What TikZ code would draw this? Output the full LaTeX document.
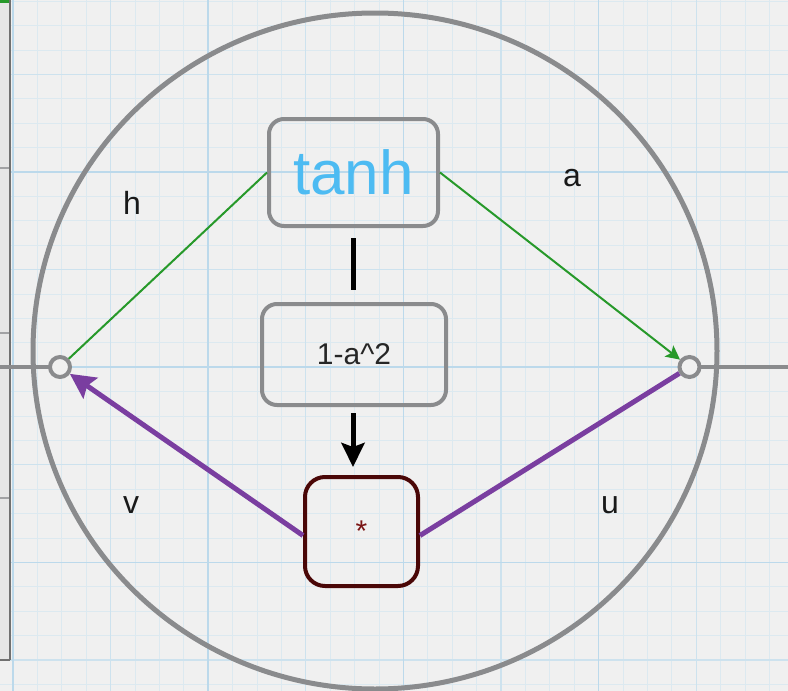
\documentclass[tikz,border=0pt]{standalone}
\usepackage{fontspec}
\setmainfont{Liberation Sans}
\usetikzlibrary{arrows.meta}

\definecolor{paper}{HTML}{F0F0F0}
\definecolor{gridminor}{HTML}{DCE9F0}
\definecolor{gridmid}{HTML}{CDE2EE}
\definecolor{gridmajor}{HTML}{BCD9EB}
\definecolor{ringgray}{HTML}{8A8B8D}
\definecolor{panelgray}{HTML}{E6E6E6}
\definecolor{paneledge}{HTML}{707070}
\definecolor{greenline}{HTML}{27992A}
\definecolor{purpleline}{HTML}{7A3EA0}
\definecolor{skyblue}{HTML}{4DBBF2}
\definecolor{maroon}{HTML}{4A0707}
\definecolor{maroontext}{HTML}{7A1414}

\tikzset{
  minorgrid/.style={gridminor, line width=0.8pt},
  midgrid/.style={gridmid, line width=1.1pt},
  majorgrid/.style={gridmajor, line width=1.5pt},
  opbox/.style={draw=ringgray, line width=4pt, rounded corners=15pt, inner sep=0pt},
  mulbox/.style={draw=maroon, line width=4pt, rounded corners=20pt, inner sep=0pt},
  port/.style={circle, draw=ringgray, fill=paper, line width=4pt, minimum size=20pt, inner sep=0pt},
  varlabel/.style={font=\fontsize{32}{36}\selectfont, text=black!90},
  inflow/.style={greenline, line width=2pt},
  backflow/.style={purpleline, line width=5pt},
}

\begin{document}
\begin{tikzpicture}[x=1pt, y=-1pt]
  % paper and grid
  \fill[paper] (0,0) rectangle (788,691);
  \useasboundingbox (0,0) rectangle (788,691);
  \foreach \i in {-1,...,32}
    \draw[minorgrid] ({13+24.4*\i},0) -- ({13+24.4*\i},691);
  \foreach \i in {0,...,28}
    \draw[minorgrid] (0,{1.2+24.4*\i}) -- (788,{1.2+24.4*\i});
  \foreach \i in {0,...,8}
    \draw[midgrid] ({13+97.6*\i},0) -- ({13+97.6*\i},691);
  \foreach \i in {-1,...,7}
    \draw[midgrid] (0,{74.4+97.6*\i}) -- (788,{74.4+97.6*\i});
  \foreach \i in {0,...,4}
    \draw[majorgrid] ({13+195.2*\i},0) -- ({13+195.2*\i},691);
  \foreach \i in {-1,...,3}
    \draw[majorgrid] (0,{172+195.2*\i}) -- (788,{172+195.2*\i});

  % side panel on the left edge
  \fill[panelgray] (0,0) rectangle (10,660);
  \fill[greenline] (0,0) rectangle (10,3);
  \foreach \yy in {168,333,498}
    \draw[ringgray!80, line width=2pt] (0,\yy) -- (10,\yy);
  \draw[paneledge, line width=1.5pt] (0,660) -- (10,660);
  \draw[paneledge, line width=2.5pt] (10,0) -- (10,660);

  % the cell outline
  \draw[ringgray, line width=5pt] (375,351) ellipse [x radius=342, y radius=338];

  % ports and the through line
  \coordinate (leftend) at (0,367);
  \coordinate (rightend) at (788,367);
  \draw[ringgray, line width=4.5pt] (leftend) -- (60,367);
  \draw[ringgray, line width=4.5pt] (689.5,367) -- (rightend);
  \node[port] (lc) at (60,367) {};
  \node[port] (rc) at (689.5,367) {};

  % operation boxes
  \node[opbox, minimum width=169pt, minimum height=107pt,
        text=skyblue, font=\fontsize{62}{66}\selectfont] (tanh) at (353.5,172.5) {tanh};
  \node[opbox, minimum width=184pt, minimum height=101pt,
        font=\fontsize{30}{34}\selectfont, text=black!85] (sq) at (354,354.5) {1-a\textasciicircum 2};
  \node[mulbox, minimum width=113pt, minimum height=109pt,
        font=\fontsize{30}{34}\selectfont, text=maroontext] (mul) at (361.5,531.5) {*};

  % forward connections
  \draw[inflow] (tanh.west) -- (lc);
  \draw[inflow, -{Stealth[length=14pt, width=14pt, inset=3pt]}] (tanh.east) -- (rc);

  % derivative chain, kept on one vertical
  \coordinate (chainx) at (353,0);
  \draw[black, line width=5pt]
    ([yshift=-10pt]chainx |- tanh.south) -- ([yshift=12pt]chainx |- sq.north);
  \draw[black, line width=5pt, -{Stealth[length=24pt, width=23pt, inset=4pt]}]
    ([yshift=-6pt]chainx |- sq.south) -- ([yshift=8pt]chainx |- mul.north);

  % backward connections
  \draw[backflow, -{Stealth[length=25pt, width=25pt, inset=4pt]}] ([yshift=-4pt]mul.west) -- (lc);
  \draw[backflow] ([yshift=-4pt]mul.east) -- (rc);

  % variable names
  \node[varlabel] (lh) at (132,203) {h};
  \node[varlabel] (la) at (572,178) {a};
  \node[varlabel] (lv) at (131,505) {v};
  \node[varlabel] (lu) at (610,505) {u};
\end{tikzpicture}
\end{document}
